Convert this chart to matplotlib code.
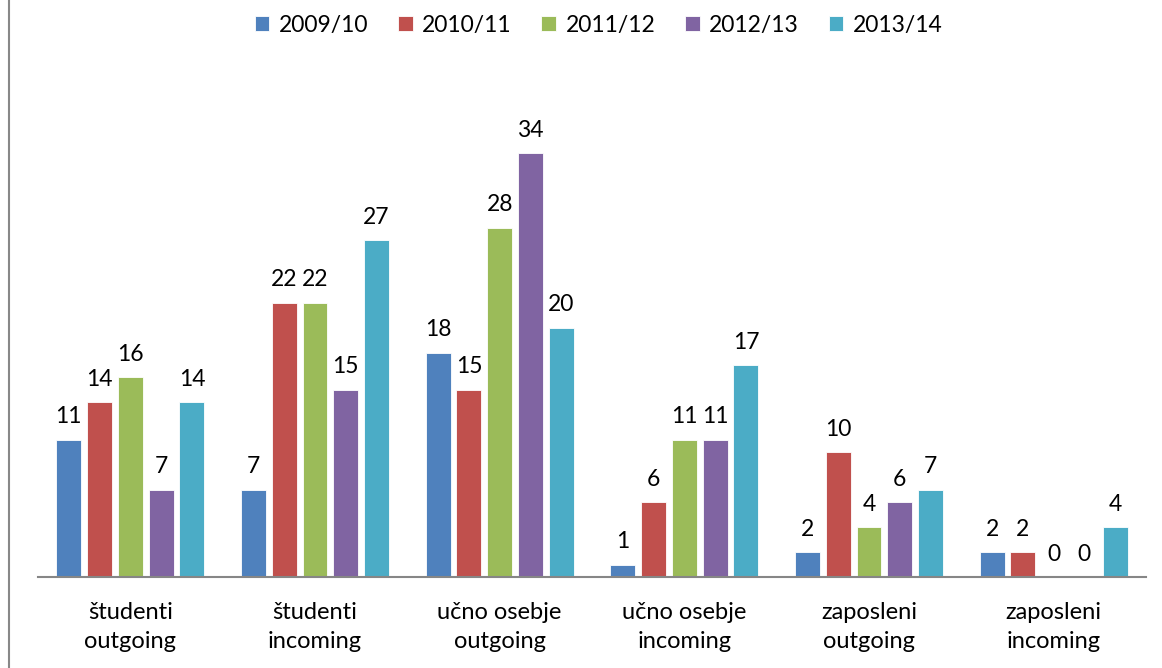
import numpy as np
import matplotlib
matplotlib.use("Agg")
import matplotlib.pyplot as plt

plt.rcParams['font.family'] = ['Lato', 'DejaVu Sans']

categories = ["študenti\noutgoing", "študenti\nincoming", "učno osebje\noutgoing",
              "učno osebje\nincoming", "zaposleni\noutgoing", "zaposleni\nincoming"]
series = ["2009/10", "2010/11", "2011/12", "2012/13", "2013/14"]
values = [
    [11, 7, 18, 1, 2, 2],
    [14, 22, 15, 6, 10, 2],
    [16, 22, 28, 11, 4, 0],
    [7, 15, 34, 11, 6, 0],
    [14, 27, 20, 17, 7, 4],
]
colors = ["#4F81BD", "#C0504D", "#9BBB59", "#8064A2", "#4BACC6"]

fig = plt.figure(figsize=(11.62, 6.68), dpi=100)
ax = fig.add_axes([0.0327, 0.1362, 0.9535, 0.7468])

x = np.arange(len(categories))
step = 0.1667
width = 0.135
fs = 16.5
for i, (name, vals) in enumerate(zip(series, values)):
    pos = x + (i - 2) * step
    ax.bar(pos, vals, width, color=colors[i], label=name,
           edgecolor='white', linewidth=0.6)
    for p, v in zip(pos, vals):
        ax.text(p, v + 1.0, str(v), ha='center', va='bottom', fontsize=fs)

ax.set_xlim(-0.5, len(categories) - 0.5)
ax.set_ylim(0, 40)
ax.set_xticks(x)
ax.set_xticklabels(categories, fontsize=17, linespacing=1.45)
ax.tick_params(axis='x', length=0, pad=18)
ax.set_yticks([])
for s in ['top', 'right', 'left']:
    ax.spines[s].set_visible(False)
ax.spines['bottom'].set_color('#868686')
ax.spines['bottom'].set_linewidth(1.5)

fig.legend(loc='center', bbox_to_anchor=(0.515, 0.962), ncol=5, frameon=False,
           fontsize=fs, handlelength=0.65, handleheight=0.65,
           handletextpad=0.4, columnspacing=1.3)

fig.add_artist(plt.Line2D([0.0077, 0.0077], [0, 1], color='#888888', linewidth=1.5,
                          transform=fig.transFigure))

fig.savefig("out.png", dpi=100)
